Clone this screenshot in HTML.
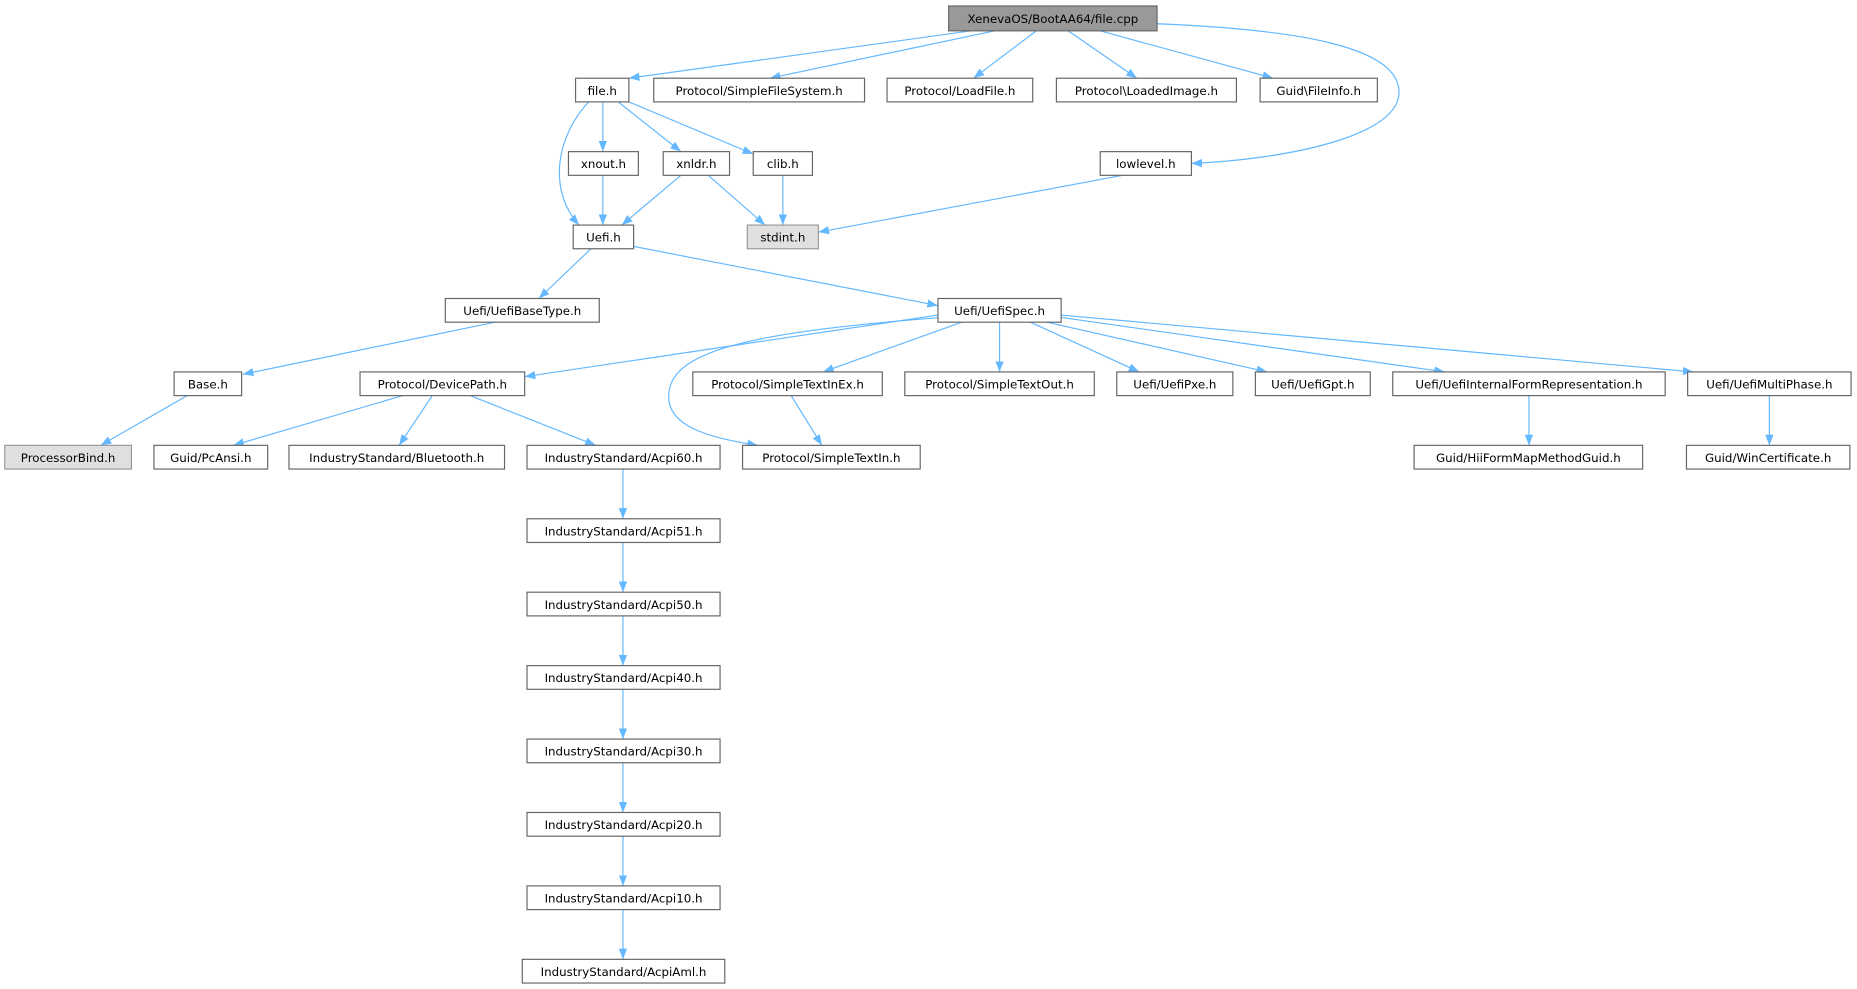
<!DOCTYPE html>
<html><head><style>html,body{margin:0;padding:0;background:#fff}svg{display:block}</style></head><body>
<svg width="1857" height="989" viewBox="0 0 1568 835" xmlns="http://www.w3.org/2000/svg" font-family="'DejaVu Sans','Liberation Sans',sans-serif" font-size="10">
<defs><marker id="a" markerWidth="10" markerHeight="8" refX="9" refY="4" orient="auto" markerUnits="userSpaceOnUse"><path d="M0,0.5 L9,4 L0,7.5 z" fill="#63b8ff"/></marker></defs>
<g fill="none" stroke="#63b8ff" stroke-width="1" marker-end="url(#a)">
<path d="M820,26 L531,66"/>
<path d="M840,26 L650,66"/>
<path d="M875,26 L822,66"/>
<path d="M902,26 L960,66"/>
<path d="M929,26 L1075,66"/>
<path d="M977,20 C1100,25 1170,40 1180,70 C1195,115 1080,135 1006,138"/>
<path d="M497,86 C470,115 462,160 489,190"/>
<path d="M509,86 L509,128"/>
<path d="M522,86 L575,128"/>
<path d="M531,86 L636,130"/>
<path d="M509,148 L509,190"/>
<path d="M575,148 L525,190"/>
<path d="M598,148 L646,190"/>
<path d="M661,148 L661,190"/>
<path d="M948,148 L691,196"/>
<path d="M499,210 L455,252"/>
<path d="M535,208 L792,258"/>
<path d="M418,272 L205,316"/>
<path d="M158,334 L85,376"/>
<path d="M792,266 L443,318"/>
<path d="M795,268 C640,280 570,295 565,330 C560,360 600,370 640,376"/>
<path d="M812,272 L695,314"/>
<path d="M844,272 L844,314"/>
<path d="M870,272 L962,314"/>
<path d="M884,272 L1070,314"/>
<path d="M896,268 L1220,314"/>
<path d="M896,266 L1430,314"/>
<path d="M340,334 L197,376"/>
<path d="M365,334 L337,376"/>
<path d="M397,334 L503,376"/>
<path d="M668,334 L694,376"/>
<path d="M1291,334 L1291,376"/>
<path d="M1494,334 L1494,376"/>
<path d="M526,396 L526,438"/>
<path d="M526,458 L526,500"/>
<path d="M526,520 L526,562"/>
<path d="M526,582 L526,624"/>
<path d="M526,644 L526,686"/>
<path d="M526,706 L526,748"/>
<path d="M526,768 L526,810"/>
</g>
<g stroke="#666" stroke-width="1" fill="#fff">
<rect x="801" y="5" width="176" height="21" fill="#999"/>
<rect x="486" y="66" width="45" height="20"/><rect x="552" y="66" width="178" height="20"/><rect x="749" y="66" width="123" height="20"/><rect x="892" y="66" width="152" height="20"/><rect x="1064" y="66" width="99" height="20"/>
<rect x="480" y="128" width="59" height="20"/><rect x="560" y="128" width="56" height="20"/><rect x="636" y="128" width="50" height="20"/><rect x="929" y="128" width="77" height="20"/>
<rect x="484" y="190" width="51" height="20"/><rect x="631" y="190" width="60" height="20" fill="#e0e0e0" stroke="#999"/>
<rect x="376" y="252" width="130" height="20"/><rect x="792" y="252" width="104" height="20"/>
<rect x="147" y="314" width="57" height="20"/><rect x="304" y="314" width="139" height="20"/><rect x="585" y="314" width="160" height="20"/><rect x="764" y="314" width="160" height="20"/><rect x="943" y="314" width="98" height="20"/><rect x="1060" y="314" width="97" height="20"/><rect x="1176" y="314" width="230" height="20"/><rect x="1425" y="314" width="138" height="20"/>
<rect x="4" y="376" width="107" height="20" fill="#e0e0e0" stroke="#999"/><rect x="130" y="376" width="96" height="20"/><rect x="244" y="376" width="182" height="20"/><rect x="445" y="376" width="163" height="20"/><rect x="627" y="376" width="150" height="20"/><rect x="1194" y="376" width="193" height="20"/><rect x="1424" y="376" width="138" height="20"/>
<rect x="445" y="438" width="163" height="20"/><rect x="445" y="500" width="163" height="20"/><rect x="445" y="562" width="163" height="20"/><rect x="445" y="624" width="163" height="20"/><rect x="445" y="686" width="163" height="20"/><rect x="445" y="748" width="163" height="20"/><rect x="441" y="810" width="171" height="20"/>
</g>
<g fill="#000" text-anchor="middle">
<text x="889" y="19.5">XenevaOS/BootAA64/file.cpp</text>
<text x="508.5" y="80">file.h</text><text x="641" y="80">Protocol/SimpleFileSystem.h</text><text x="810.5" y="80">Protocol/LoadFile.h</text><text x="968" y="80">Protocol\LoadedImage.h</text><text x="1113.5" y="80">Guid\FileInfo.h</text>
<text x="509.5" y="142">xnout.h</text><text x="588" y="142">xnldr.h</text><text x="661" y="142">clib.h</text><text x="967.5" y="142">lowlevel.h</text>
<text x="509.5" y="204">Uefi.h</text><text x="661" y="204">stdint.h</text>
<text x="441" y="266">Uefi/UefiBaseType.h</text><text x="844" y="266">Uefi/UefiSpec.h</text>
<text x="175.5" y="328">Base.h</text><text x="373.5" y="328">Protocol/DevicePath.h</text><text x="665" y="328">Protocol/SimpleTextInEx.h</text><text x="844" y="328">Protocol/SimpleTextOut.h</text><text x="992" y="328">Uefi/UefiPxe.h</text><text x="1108.5" y="328">Uefi/UefiGpt.h</text><text x="1291" y="328">Uefi/UefiInternalFormRepresentation.h</text><text x="1494" y="328">Uefi/UefiMultiPhase.h</text>
<text x="57.5" y="390">ProcessorBind.h</text><text x="178" y="390">Guid/PcAnsi.h</text><text x="335" y="390">IndustryStandard/Bluetooth.h</text><text x="526.5" y="390">IndustryStandard/Acpi60.h</text><text x="702" y="390">Protocol/SimpleTextIn.h</text><text x="1290.5" y="390">Guid/HiiFormMapMethodGuid.h</text><text x="1493" y="390">Guid/WinCertificate.h</text>
<text x="526.5" y="452">IndustryStandard/Acpi51.h</text><text x="526.5" y="514">IndustryStandard/Acpi50.h</text><text x="526.5" y="576">IndustryStandard/Acpi40.h</text><text x="526.5" y="638">IndustryStandard/Acpi30.h</text><text x="526.5" y="700">IndustryStandard/Acpi20.h</text><text x="526.5" y="762">IndustryStandard/Acpi10.h</text><text x="526.5" y="824">IndustryStandard/AcpiAml.h</text>
</g>
</svg>
</body></html>
